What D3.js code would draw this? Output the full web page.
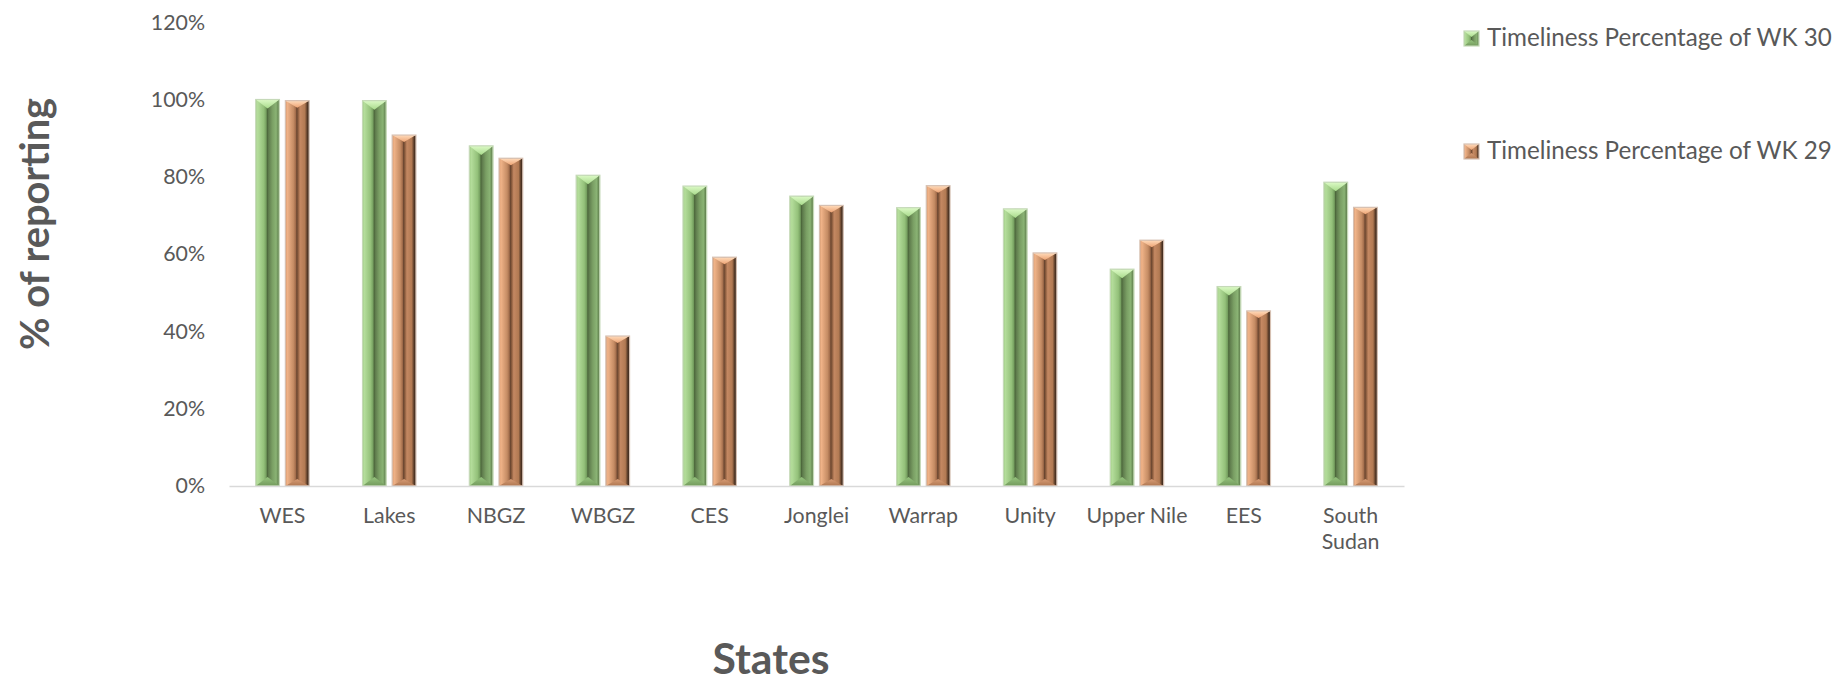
<!DOCTYPE html>
<html>
<head>
<meta charset="utf-8">
<script src="https://cdn.jsdelivr.net/npm/d3@7"></script>
<style>
  html, body { margin: 0; padding: 0; background: #ffffff; }
  svg { display: block; }
  text { font-family: Lato, "Open Sans", sans-serif; fill: #595959; }
</style>
</head>
<body>
<svg id="chart" width="1835" height="684"></svg>
<script>
// ---- data ----
const categories = ["WES", "Lakes", "NBGZ", "WBGZ", "CES", "Jonglei", "Warrap", "Unity", "Upper Nile", "EES", "South Sudan"];
const seriesNames = ["Timeliness Percentage of WK 30", "Timeliness Percentage of WK 29"];
const wk30 = [1.00, 0.997, 0.88, 0.804, 0.776, 0.75, 0.72, 0.717, 0.561, 0.516, 0.786];
const wk29 = [0.997, 0.908, 0.848, 0.388, 0.592, 0.726, 0.777, 0.603, 0.636, 0.453, 0.721];
const yTicks = [0, 0.2, 0.4, 0.6, 0.8, 1.0, 1.2];

const seriesValues = [wk30, wk29];
const svg = d3.select("#chart");

// font size that makes a sample string reach a target width
function fitSize(sample, targetWidth, weight) {
  const t = svg.append("text").style("font-size", "100px").style("font-weight", weight || "normal").text(sample);
  const w = t.node().getComputedTextLength();
  t.remove();
  return 100 * targetWidth / w;
}
const tickFont = fitSize("Upper Nile", 101);
const legendFont = fitSize("Timeliness Percentage of WK 30", 345);
const yTitleFont = fitSize("% of reporting", 252, "bold");
const xTitleFont = fitSize("States", 117, "bold");

// ---- gradients / styles ----
const palettes = [
  { // green
    side: [["0%","#a0cc84"],["8%","#b4dd9b"],["34%","#94c17a"],["44%","#76a060"],["49%","#4c673b"],["54%","#5e7b4c"],["70%","#7a9f64"],["86%","#8ab374"],["95%","#678854"],["100%","#9dbd8a"]],
    top: ["#dcfac6", "#a9db8c"],
    bottom: ["#96c47e", "#72995c"],
    border: "#c5d9b8"
  },
  { // orange
    side: [["0%","#d4956a"],["8%","#f0b388"],["34%","#c58c64"],["43%","#a46e4c"],["48%","#6a4630"],["53%","#885a3c"],["62%","#c48862"],["82%","#b27a53"],["92%","#583b28"],["100%","#2c1f17"]],
    top: ["#ffdcbc", "#eea474"],
    bottom: ["#d89c75", "#ae7650"],
    border: "#d6c0b2"
  }
];
const defs = svg.append("defs");
palettes.forEach((p, i) => {
  const g = defs.append("linearGradient").attr("id", "side" + i)
    .attr("x1", "0").attr("x2", "1").attr("y1", "0").attr("y2", "0");
  p.side.forEach(s => g.append("stop").attr("offset", s[0]).attr("stop-color", s[1]));
  const t = defs.append("linearGradient").attr("id", "top" + i)
    .attr("x1", "0").attr("x2", "0").attr("y1", "0").attr("y2", "1");
  t.append("stop").attr("offset", "0%").attr("stop-color", p.top[0]);
  t.append("stop").attr("offset", "100%").attr("stop-color", p.top[1]);
  const b = defs.append("linearGradient").attr("id", "bot" + i)
    .attr("x1", "0").attr("x2", "0").attr("y1", "0").attr("y2", "1");
  b.append("stop").attr("offset", "0%").attr("stop-color", p.bottom[0]);
  b.append("stop").attr("offset", "100%").attr("stop-color", p.bottom[1]);
});

// ---- scales ----
const plotLeft = 229, plotRight = 1404, plotBottom = 486, plotTop = 22.2;
const x0 = d3.scaleBand().domain(categories).range([plotLeft, plotRight]).paddingInner(0.5).paddingOuter(0.25);
const x1 = d3.scaleBand().domain([0, 1]).range([0, x0.bandwidth()]).paddingInner(0.2);
const y = d3.scaleLinear().domain([0, 1.2]).range([plotBottom, plotTop]);

// ---- y axis ----
const yAxis = svg.append("g").attr("transform", `translate(${plotLeft},0)`)
  .call(d3.axisLeft(y).tickValues(yTicks).tickFormat(d3.format(".0%")).tickSize(0).tickPadding(24));
yAxis.select(".domain").remove();
yAxis.selectAll("text").style("font-family", "Lato, 'Open Sans', sans-serif").style("font-size", tickFont + "px").attr("fill", "#595959");

// ---- bevel bar drawing ----
function drawBevel(g, xx, yy, w, h, pi, depth) {
  const d = Math.min(depth, h / 2);
  const xc = xx + w / 2;
  g.append("rect").attr("x", xx).attr("y", yy).attr("width", w).attr("height", h)
    .attr("fill", `url(#side${pi})`);
  g.append("path")
    .attr("d", `M${xx},${yy}L${xx + w},${yy}L${xc},${yy + d}Z`)
    .attr("fill", `url(#top${pi})`);
  g.append("path")
    .attr("d", `M${xx},${yy + h}L${xx + w},${yy + h}L${xc},${yy + h - d}Z`)
    .attr("fill", `url(#bot${pi})`);
  g.append("rect").attr("x", xx).attr("y", yy).attr("width", w).attr("height", h)
    .attr("fill", "none").attr("stroke", palettes[pi].border).attr("stroke-width", 1.2);
}

// ---- bars ----
const barsG = svg.append("g");
categories.forEach((c, ci) => {
  seriesValues.forEach((vals, si) => {
    const v = vals[ci];
    const bx = x0(c) + x1(si);
    const by = y(v);
    const bh = y(0) - y(v);
    drawBevel(barsG.append("g"), bx, by, x1.bandwidth(), bh, si, si === 0 ? 9 : 7);
  });
});

// ---- x axis ----
const xAxis = svg.append("g").attr("transform", `translate(0,${plotBottom})`)
  .call(d3.axisBottom(x0).tickSize(0).tickPadding(22));
xAxis.select(".domain").attr("stroke", "#d9d9d9").attr("stroke-width", 1.5);
xAxis.selectAll("text").style("font-family", "Lato, 'Open Sans', sans-serif").style("font-size", tickFont + "px").attr("fill", "#595959")
  .each(function(d) {
    const t = d3.select(this);
    if (this.getComputedTextLength() > x0.step() + 4) {
      const words = d.split(" ");
      t.text(null);
      const dy0 = t.attr("dy");
      words.forEach((w, i) => {
        t.append("tspan").attr("x", 0).attr("dy", i === 0 ? dy0 : "1.2em").text(w);
      });
    }
  });

// ---- axis titles ----
svg.append("text")
  .attr("transform", "translate(33,224) rotate(-90)")
  .attr("text-anchor", "middle").attr("dominant-baseline", "central")
  .style("font-size", yTitleFont + "px").style("font-weight", "bold")
  .text("% of reporting");
svg.append("text")
  .attr("x", 771).attr("y", 674).attr("text-anchor", "middle")
  .style("font-size", xTitleFont + "px").style("font-weight", "bold")
  .text("States");

// ---- legend ----
const legendY = [31, 144];
seriesNames.forEach((n, i) => {
  const lg = svg.append("g");
  drawBevel(lg, 1464, legendY[i], 15, 15, i, 6);
  lg.append("text").attr("x", 1487).attr("y", legendY[i] + 15)
    .style("font-size", legendFont + "px").text(n);
});
</script>
</body>
</html>
